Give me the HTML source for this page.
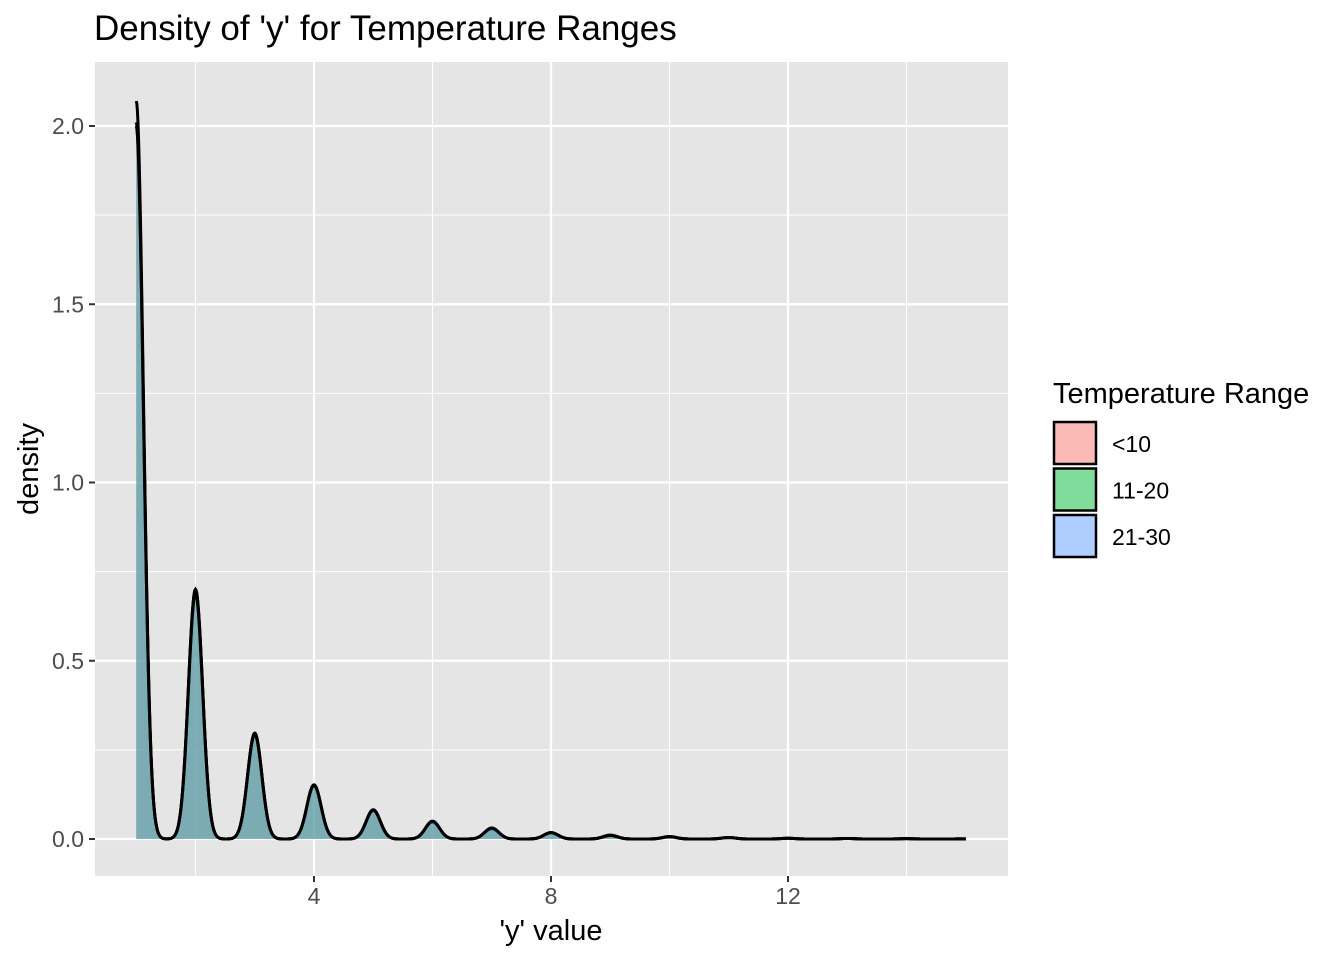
<!DOCTYPE html>
<html><head><meta charset="utf-8"><style>
body{margin:0;background:#fff;font-family:"Liberation Sans",Arial,sans-serif}
svg text{font-family:"Liberation Sans",Arial,sans-serif}
</style></head><body>
<svg id="c" width="1344" height="960" xmlns="http://www.w3.org/2000/svg">
<rect x="0" y="0" width="1344" height="960" fill="#fff"/>
<text x="94" y="40" font-size="35" fill="#000">Density of 'y' for Temperature Ranges</text>
<rect x="95" y="62" width="913" height="814" fill="#e5e5e5"/>
<g id="grid"></g><g id="marks"></g><g id="axes"></g>
<text x="551" y="940" font-size="29" text-anchor="middle">'y' value</text>
<text transform="translate(38,469) rotate(-90)" font-size="29" text-anchor="middle">density</text>
<g>
<text x="1053" y="403" font-size="29">Temperature Range</text>
<g id="leg"></g>
</g>
</svg>
<script>
const categories=['<10','11-20','21-30'];
const colors=['#F8766D','#00BA38','#619CFF'];
const xs=[1,2,3,4,5,6,7,8,9,10,11,12,13,14,15];
const peaksA=[2.07,0.70,0.295,0.152,0.082,0.049,0.030,0.017,0.010,0.006,0.004,0.002,0.0015,0.001,0.0005];
const peaksB=[2.00,0.70,0.297,0.150,0.080,0.048,0.029,0.018,0.011,0.006,0.004,0.002,0.0015,0.001,0.0005];
const peaksC=[2.01,0.69,0.293,0.151,0.081,0.050,0.031,0.018,0.010,0.007,0.004,0.002,0.0015,0.001,0.0005];
const xTicks=[4,8,12];
const yTicks=[0,0.5,1,1.5,2];
const series=[peaksA,peaksB,peaksC];
const NS='http://www.w3.org/2000/svg';
const X=v=>136.25+(v-1)*59.25, Y=v=>839-v*356.5;
function mk(t,a,p){const e=document.createElementNS(NS,t);for(const k in a)e.setAttribute(k,a[k]);p.appendChild(e);return e;}
const grid=document.getElementById('grid'),marks=document.getElementById('marks'),axes=document.getElementById('axes');
for(let v=2;v<=14;v+=2){const g=mk('line',{x1:X(v),x2:X(v),y1:62,y2:876,stroke:'#fff','stroke-width':v%4==0?2.2:1.1},grid);

}
for(let v=0;v<=2;v+=0.25){const g=mk('line',{x1:95,x2:1008,y1:Y(v),y2:Y(v),stroke:'#fff','stroke-width':(v*2)%1==0?2.2:1.1},grid);

}
const sd=0.12;
series.forEach((pk,si)=>{
  let pts=[];
  for(let x=1;x<=15.0001;x+=0.01){let d=0;xs.forEach((c,i)=>{d+=pk[i]*Math.exp(-0.5*((x-c)/sd)**2);});pts.push([X(x),Y(d)]);}
  const line=pts.map((p,i)=>(i?'L':'M')+p[0].toFixed(2)+','+p[1].toFixed(2)).join('');
  const a=mk('path',{d:line+`L${X(15)},${Y(0)}L${X(1)},${Y(0)}Z`,fill:colors[si],'fill-opacity':0.4,stroke:'none'},marks);
  
  
  const l=mk('path',{d:line,fill:'none',stroke:'#000','stroke-width':3},marks);
  
  
});
xTicks.forEach(v=>{mk('line',{x1:X(v),x2:X(v),y1:876,y2:882,stroke:'#333','stroke-width':2},axes);
const t=mk('text',{x:X(v),y:904,'font-size':23,'text-anchor':'middle',fill:'#4d4d4d'},axes);t.textContent=v;

});
yTicks.forEach(v=>{mk('line',{x1:89,x2:95,y1:Y(v),y2:Y(v),stroke:'#333','stroke-width':2},axes);
const t=mk('text',{x:84,y:Y(v)+8,'font-size':23,'text-anchor':'end',fill:'#4d4d4d'},axes);t.textContent=v.toFixed(1);

});
const leg=document.getElementById('leg');
categories.forEach((c,i)=>{const y=422+i*46.5;
const r=mk('rect',{x:1054,y:y,width:42,height:42,fill:colors[i],'fill-opacity':0.5,stroke:'#000','stroke-width':2.5},leg);


const t=mk('text',{x:1112,y:y+30,'font-size':23},leg);t.textContent=c;

});
</script>
</body></html>
